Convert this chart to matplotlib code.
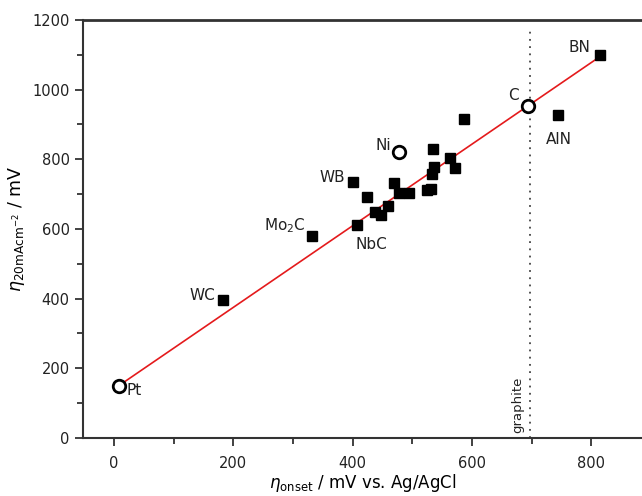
import matplotlib
matplotlib.use("Agg")
import matplotlib.pyplot as plt
from matplotlib.ticker import MultipleLocator

# filled squares: onset overpotential vs overpotential at 20 mA/cm2
sq_x = [183, 332, 408, 400, 586, 744, 814, 535, 564, 571, 536, 533,
        470, 424, 477, 495, 525, 531, 460, 437, 447]
sq_y = [396, 581, 610, 734, 915, 927, 1100, 830, 803, 776, 779, 758,
        733, 691, 702, 702, 711, 715, 665, 649, 639]

# open circles (Pt, Ni, C)
circ_x = [8, 477, 694]
circ_y = [150, 820, 954]

# linear fit
fit_x = [10, 815]
fit_y = [152, 1095]

graphite_x = 697

labels = ["Pt", "WC", "Mo$_2$C", "NbC", "WB", "Ni", "C", "AlN", "BN"]
label_x = [22, 170, 322, 431, 388, 464, 669, 746, 798]
label_y = [136, 410, 610, 554, 747, 838, 982, 856, 1120]
label_ha = ["left", "right", "right", "center", "right", "right", "center", "center", "right"]

fig = plt.figure(figsize=(6.42, 4.96), dpi=100)
ax = fig.add_axes([0.129, 0.117, 0.871, 0.843])

ax.plot(fit_x, fit_y, color="#e41a1c", lw=1.2, zorder=2)
ax.plot(sq_x, sq_y, "s", color="black", ms=7.5, zorder=3)
ax.plot(circ_x, circ_y, "o", mfc="white", mec="black", mew=2, ms=9, zorder=4)
ax.plot([graphite_x, graphite_x], [0, 1175], color="#444444", ls=(0, (1, 3)), lw=1.3, zorder=1)
ax.text(graphite_x - 20, 95, "graphite", rotation=90, ha="center", va="center", fontsize=9.5, color="#222222")

for t, x, y, ha in zip(labels, label_x, label_y, label_ha):
    ax.text(x, y, t, ha=ha, va="center", fontsize=11, color="#222222")

ax.set_xlim(-52, 885)
ax.set_ylim(0, 1200)
ax.xaxis.set_major_locator(MultipleLocator(200))
ax.xaxis.set_minor_locator(MultipleLocator(100))
ax.yaxis.set_major_locator(MultipleLocator(200))
ax.yaxis.set_minor_locator(MultipleLocator(100))
ax.tick_params(which="both", direction="out", labelsize=10.5, width=1.3, colors="#333333")
ax.tick_params(which="major", length=6)
ax.tick_params(which="minor", length=4)
ax.tick_params(axis="x", pad=7)
for tl in ax.get_xticklabels() + ax.get_yticklabels():
    tl.set_color("#222222")

ax.spines["right"].set_visible(False)
for s in ["left", "bottom", "top"]:
    ax.spines[s].set_color("#333333")
    ax.spines[s].set_linewidth(1.5)
ax.spines["top"].set_linewidth(2)

ax.set_xlabel(r"$\eta_{\mathrm{onset}}$ / mV vs. Ag/AgCl", fontsize=12, labelpad=1)
ax.set_ylabel(r"$\eta_{\mathrm{20mAcm^{-2}}}$ / mV", fontsize=12.5, labelpad=4)

fig.savefig("out.png", dpi=100)
